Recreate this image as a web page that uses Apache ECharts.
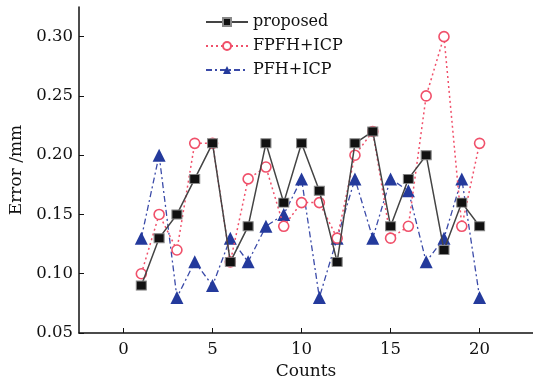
<!DOCTYPE html>
<html>
<head>
<meta charset="utf-8">
<script src="https://cdn.jsdelivr.net/npm/echarts@6/dist/echarts.min.js"></script>
<style>
  html, body { margin: 0; padding: 0; background: #fff; }
  #chart { width: 533px; height: 385px; }
</style>
</head>
<body>
<div id="chart"></div>
<script>
var counts = [1, 2, 3, 4, 5, 6, 7, 8, 9, 10, 11, 12, 13, 14, 15, 16, 17, 18, 19, 20];
var proposed = [0.09, 0.13, 0.15, 0.18, 0.21, 0.11, 0.14, 0.21, 0.16, 0.21, 0.17, 0.11, 0.21, 0.22, 0.14, 0.18, 0.20, 0.12, 0.16, 0.14];
var fpfhIcp = [0.10, 0.15, 0.12, 0.21, 0.21, 0.11, 0.18, 0.19, 0.14, 0.16, 0.16, 0.13, 0.20, 0.22, 0.13, 0.14, 0.25, 0.30, 0.14, 0.21];
var pfhIcp = [0.13, 0.20, 0.08, 0.11, 0.09, 0.13, 0.11, 0.14, 0.15, 0.18, 0.08, 0.13, 0.18, 0.13, 0.18, 0.17, 0.11, 0.13, 0.18, 0.08];
var xTicks = [0, 5, 10, 15, 20];
var yTicks = [0.05, 0.10, 0.15, 0.20, 0.25, 0.30];

function pairs(ys) {
	var out = [];
	for (var i = 0; i < counts.length; i++) {
		out.push([counts[i], ys[i]]);
	}
	return out;
}

var font = 'DejaVu Serif';
var chart = echarts.init(document.getElementById('chart'));
chart.setOption({
	animation: false,
	textStyle: { fontFamily: font },
	grid: { left: 79, right: 0, top: 7, bottom: 51 },
	legend: {
		orient: 'vertical',
		left: 200,
		top: 9,
		itemWidth: 42,
		itemHeight: 10,
		itemGap: 8,
		textStyle: { fontFamily: font, fontSize: 16, color: '#111' },
		data: ['proposed', 'FPFH+ICP', 'PFH+ICP']
	},
	xAxis: {
		type: 'value',
		min: -2.5,
		max: 23,
		name: 'Counts',
		nameLocation: 'middle',
		nameGap: 30,
		nameTextStyle: { fontFamily: font, fontSize: 17, color: '#111' },
		axisLine: { onZero: false, lineStyle: { color: '#111', width: 1.5 } },
		axisTick: { inside: true, length: 5, customValues: xTicks, lineStyle: { color: '#111' } },
		axisLabel: { customValues: xTicks, color: '#111', fontSize: 16.5, margin: 8 },
		splitLine: { show: false }
	},
	yAxis: {
		type: 'value',
		min: 0.05,
		max: 0.325,
		name: 'Error /mm',
		nameLocation: 'middle',
		nameGap: 50,
		nameTextStyle: { fontFamily: font, fontSize: 17, color: '#111' },
		axisLine: { show: true, onZero: false, lineStyle: { color: '#111', width: 1.5 } },
		axisTick: { show: true, inside: true, length: 5, customValues: yTicks, lineStyle: { color: '#111' } },
		axisLabel: {
			customValues: yTicks, color: '#111', fontSize: 16.5, margin: 6,
			formatter: function (v) { return v.toFixed(2); }
		},
		splitLine: { show: false }
	},
	series: [
		{
			name: 'proposed',
			type: 'line',
			data: pairs(proposed),
			symbol: 'rect',
			symbolSize: [10, 9],
			lineStyle: { color: '#444', width: 1.5, type: 'solid' },
			itemStyle: { color: '#111', borderColor: '#888', borderWidth: 1 },
			z: 3
		},
		{
			name: 'FPFH+ICP',
			type: 'line',
			data: pairs(fpfhIcp),
			symbol: 'circle',
			symbolSize: 10,
			showAllSymbol: true,
			lineStyle: { color: '#f0506a', width: 1.5, type: [2, 3] },
			itemStyle: { color: '#fff', borderColor: '#f0506a', borderWidth: 1.6 },
			z: 2
		},
		{
			name: 'PFH+ICP',
			type: 'line',
			data: pairs(pfhIcp),
			symbol: 'triangle',
			symbolSize: 13,
			lineStyle: { color: '#3a4aa8', width: 1.3, type: [6, 3, 2, 3] },
			itemStyle: { color: '#243a9c' },
			z: 1
		}
	]
});
</script>
</body>
</html>
